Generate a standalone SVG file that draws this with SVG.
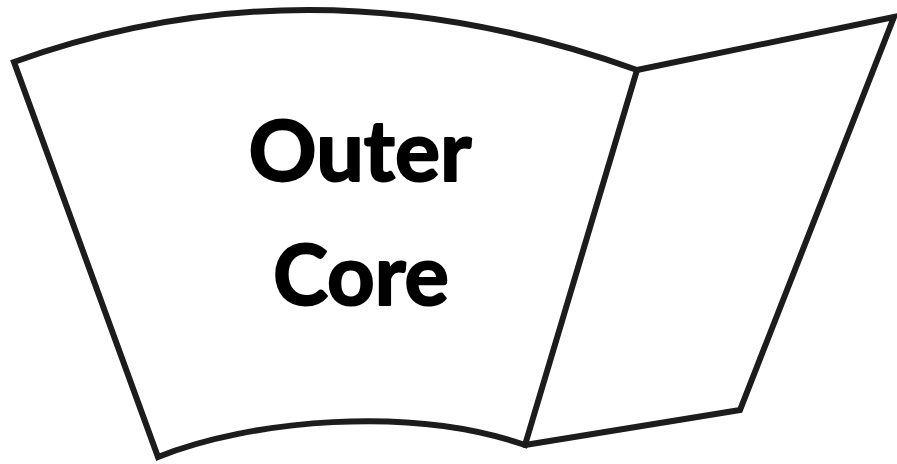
<svg xmlns="http://www.w3.org/2000/svg" width="897" height="464" viewBox="0 0 897 464">
<style>
.edge{fill:none;stroke:#1c1c1c;stroke-width:6;stroke-linejoin:miter;stroke-linecap:round}
.lbl{font-family:Lato,"Open Sans","Liberation Sans",sans-serif;font-weight:700;font-size:84px;fill:#000;stroke:#000;stroke-width:2;stroke-linejoin:round;text-anchor:middle}
</style>
<rect width="897" height="464" fill="#fff"/>
<g id="outer-core">
<path class="edge" d="M14,62 Q314,-46 637,70 L525,445 C410,405 250,420 158,457 Z"/>
<text class="lbl" x="360" y="181" textLength="223" lengthAdjust="spacingAndGlyphs">Outer</text>
<text class="lbl" x="361" y="305" textLength="176" lengthAdjust="spacingAndGlyphs">Core</text>
</g>
<g id="flap">
<path class="edge" d="M637,70 L894,17 L740,410 L525,445"/>
</g>
</svg>
